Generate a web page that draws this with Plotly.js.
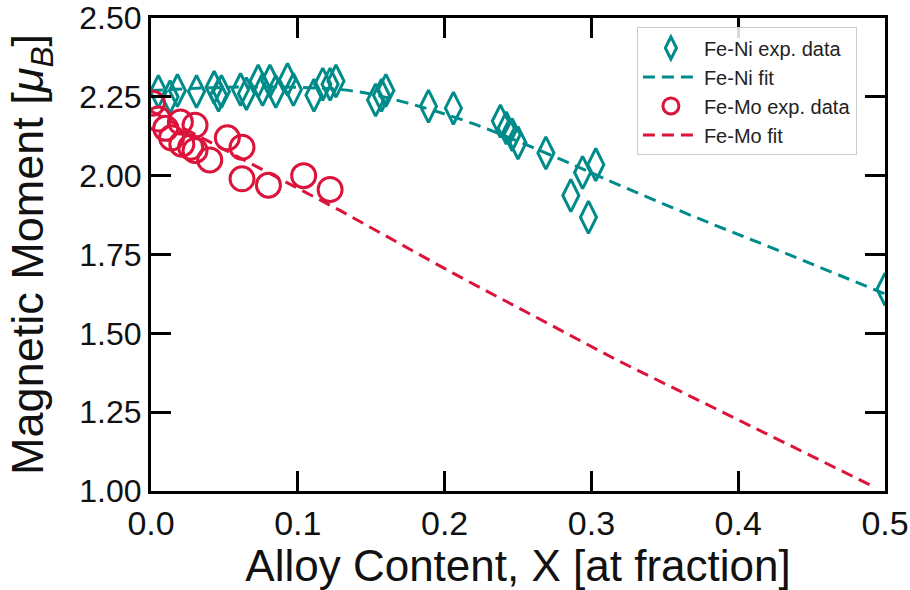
<!DOCTYPE html>
<html>
<head>
<meta charset="utf-8">
<script src="https://cdn.plot.ly/plotly-3.0.1.min.js"></script>
<style>
  html, body { margin: 0; padding: 0; background: #fff; }
  #chart { width: 910px; height: 590px; }
</style>
</head>
<body>
<div id="chart"></div>
<script>
// Fe-Ni experimental data (alloy fraction, magnetic moment in mu_B)
const feNiX = [0.005, 0.013, 0.018, 0.031, 0.043, 0.046, 0.048, 0.061, 0.065, 0.073,
               0.076, 0.081, 0.085, 0.093, 0.097, 0.111, 0.117, 0.122, 0.126,
               0.153, 0.157, 0.160, 0.189, 0.206,
               0.238, 0.242, 0.246, 0.250, 0.269,
               0.286, 0.294, 0.298, 0.303, 0.500];
const feNiY = [2.267, 2.250, 2.270, 2.267, 2.280, 2.255, 2.267, 2.273, 2.260, 2.300,
               2.273, 2.300, 2.267, 2.305, 2.273, 2.255, 2.290, 2.290, 2.300,
               2.240, 2.255, 2.270, 2.220, 2.214,
               2.173, 2.151, 2.130, 2.104, 2.072,
               1.937, 2.010, 1.868, 2.035, 1.640];

// Fe-Ni fit curve
const feNiFitX = [0.00, 0.05, 0.10, 0.14, 0.175, 0.22, 0.28, 0.315, 0.37, 0.43, 0.50];
const feNiFitY = [2.270, 2.280, 2.280, 2.267, 2.230, 2.164, 2.050, 1.978, 1.870, 1.758, 1.625];

// Fe-Mo experimental data
const feMoX = [0.001, 0.005, 0.010, 0.014, 0.020, 0.021, 0.027, 0.030, 0.030, 0.040,
               0.052, 0.062, 0.062, 0.080, 0.104, 0.122];
const feMoY = [2.230, 2.180, 2.150, 2.120, 2.170, 2.100, 2.090, 2.160, 2.080, 2.050,
               2.120, 2.090, 1.990, 1.970, 2.000, 1.956];

// Fe-Mo fit line
const feMoFitX = [0.000, 0.129, 0.206, 0.3175, 0.490];
const feMoFitY = [2.205, 1.889, 1.690, 1.415, 1.019];

// Axis ticks
const xTicks = [0.0, 0.1, 0.2, 0.3, 0.4, 0.5];
const xTickLabels = ["0.0", "0.1", "0.2", "0.3", "0.4", "0.5"];
const yTicks = [1.00, 1.25, 1.50, 1.75, 2.00, 2.25, 2.50];
const yTickLabels = ["1.00", "1.25", "1.50", "1.75", "2.00", "2.25", "2.50"];

const teal = "#008b8b";
const red = "#dc143c";
const FONT = "Liberation Sans, Arial, Helvetica, sans-serif";
const INK = "#111";

const traces = [
  {
    x: feNiX, y: feNiY, type: "scatter", mode: "markers", name: "Fe-Ni exp. data",
    marker: { symbol: "diamond-tall-open", size: 23, color: teal, line: { color: teal, width: 3 } }
  },
  {
    x: feNiFitX, y: feNiFitY, type: "scatter", mode: "lines", name: "Fe-Ni fit",
    line: { color: teal, width: 3, dash: "12px,7px", shape: "spline" }
  },
  {
    x: feMoX, y: feMoY, type: "scatter", mode: "markers", name: "Fe-Mo exp. data",
    marker: { symbol: "circle-open", size: 24, color: red, line: { color: red, width: 3 } }
  },
  {
    x: feMoFitX, y: feMoFitY, type: "scatter", mode: "lines", name: "Fe-Mo fit",
    line: { color: red, width: 3, dash: "12px,7px" }
  }
];

const axisCommon = {
  showline: true, linecolor: "#000", linewidth: 3, mirror: "ticks",
  ticks: "inside", ticklen: 20, tickwidth: 3, tickcolor: "#000",
  showgrid: false, zeroline: false, automargin: false,
  ticklabeloverflow: "allow"
};

const layout = {
  width: 910, height: 590,
  paper_bgcolor: "#fff", plot_bgcolor: "#fff",
  margin: { l: 151, r: 25, t: 18, b: 99 },
  showlegend: true,
  legend: {
    x: 0.662, y: 0.98, xanchor: "left", yanchor: "top",
    bgcolor: "rgba(255,255,255,0.85)", bordercolor: "#cccccc", borderwidth: 1,
    font: { family: FONT, size: 20, color: "#222" },
    itemwidth: 56, tracegroupgap: 0
  },
  xaxis: Object.assign({}, axisCommon, {
    range: [0, 0.5], tickmode: "array", tickvals: xTicks, ticktext: xTickLabels,
    tickfont: { family: FONT, size: 34, color: INK },
    title: { text: "Alloy Content, X [at fraction]", font: { family: FONT, size: 44, color: INK }, standoff: 0 }
  }),
  yaxis: Object.assign({}, axisCommon, {
    range: [1, 2.5], tickmode: "array", tickvals: yTicks, ticktext: yTickLabels,
    tickfont: { family: FONT, size: 32, color: INK },
    title: { text: "Magnetic Moment [<i>μ</i><sub><i>B</i></sub>]", font: { family: FONT, size: 45, color: INK }, standoff: 22 }
  })
};

Plotly.newPlot("chart", traces, layout, { staticPlot: true, displayModeBar: false });
</script>
</body>
</html>
